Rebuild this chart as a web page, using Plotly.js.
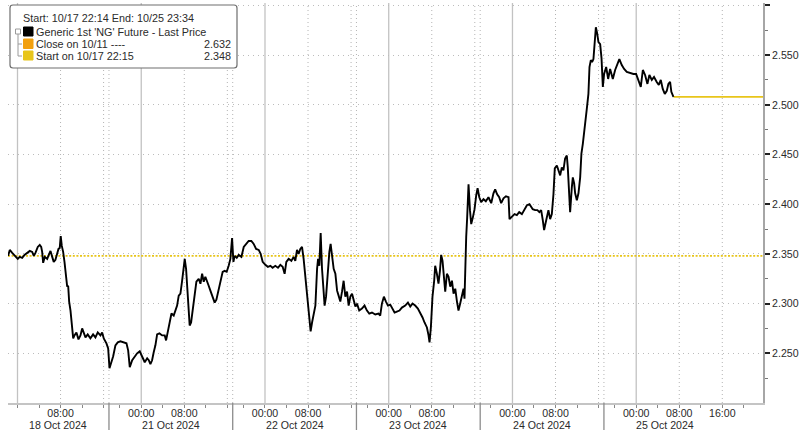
<!DOCTYPE html>
<html><head><meta charset="utf-8">
<script src="https://cdn.plot.ly/plotly-3.0.1.min.js"></script>
<style>html,body{margin:0;padding:0;background:#fff}#chart{width:800px;height:430px}</style>
</head><body><div id="chart"></div>
<script>
// ---------- data ----------
const times = [
'2024-10-17 22:15','2024-10-17 22:34','2024-10-17 23:01','2024-10-17 23:38','2024-10-18 00:03','2024-10-18 00:25','2024-10-18 00:52','2024-10-18 01:18','2024-10-18 01:48','2024-10-18 02:17','2024-10-18 02:44','2024-10-18 03:02','2024-10-18 03:20','2024-10-18 03:46','2024-10-18 04:08','2024-10-18 04:24','2024-10-18 04:35','2024-10-18 04:46','2024-10-18 05:04','2024-10-18 05:31','2024-10-18 05:49','2024-10-18 06:08','2024-10-18 06:27','2024-10-18 06:44','2024-10-18 07:03','2024-10-18 07:22','2024-10-18 07:37','2024-10-18 07:51','2024-10-18 08:02','2024-10-18 08:14','2024-10-18 08:29','2024-10-18 08:44','2024-10-18 08:58','2024-10-18 09:14','2024-10-18 09:25','2024-10-18 09:36','2024-10-18 09:51','2024-10-18 10:05','2024-10-18 10:21','2024-10-18 10:35','2024-10-18 10:57','2024-10-18 11:20','2024-10-18 11:42','2024-10-18 12:01','2024-10-18 12:19','2024-10-18 12:38','2024-10-18 13:03','2024-10-18 13:33','2024-10-18 14:03','2024-10-18 14:29','2024-10-18 14:55','2024-10-18 15:25','2024-10-18 15:44','2024-10-18 16:02','2024-10-18 16:32','2024-10-18 16:51',
'2024-10-20 18:06','2024-10-20 18:25','2024-10-20 18:47','2024-10-20 19:12','2024-10-20 19:38','2024-10-20 20:08','2024-10-20 20:45','2024-10-20 21:15','2024-10-20 21:34','2024-10-20 21:52','2024-10-20 22:19','2024-10-20 22:44','2024-10-20 23:14','2024-10-20 23:43','2024-10-21 00:10','2024-10-21 00:39','2024-10-21 01:06','2024-10-21 01:24','2024-10-21 01:42','2024-10-21 02:01','2024-10-21 02:19','2024-10-21 02:38','2024-10-21 02:57','2024-10-21 03:23','2024-10-21 03:53','2024-10-21 04:22','2024-10-21 04:37','2024-10-21 04:55','2024-10-21 05:18','2024-10-21 05:37','2024-10-21 06:02','2024-10-21 06:21','2024-10-21 06:40','2024-10-21 06:58','2024-10-21 07:17','2024-10-21 07:36','2024-10-21 07:54','2024-10-21 08:05','2024-10-21 08:20','2024-10-21 08:35','2024-10-21 08:49','2024-10-21 09:00','2024-10-21 09:16','2024-10-21 09:34','2024-10-21 09:56','2024-10-21 10:15','2024-10-21 10:41','2024-10-21 11:00','2024-10-21 11:19','2024-10-21 11:37','2024-10-21 11:55','2024-10-21 12:14','2024-10-21 12:32','2024-10-21 12:51','2024-10-21 13:17','2024-10-21 13:39','2024-10-21 13:58','2024-10-21 14:24','2024-10-21 14:43','2024-10-21 15:08','2024-10-21 15:30','2024-10-21 15:53','2024-10-21 16:15','2024-10-21 16:34','2024-10-21 16:53',
'2024-10-21 18:08','2024-10-21 18:22','2024-10-21 18:45','2024-10-21 19:07','2024-10-21 19:37','2024-10-21 20:03','2024-10-21 20:29','2024-10-21 20:58','2024-10-21 21:28','2024-10-21 21:54','2024-10-21 22:21','2024-10-21 22:50','2024-10-21 23:12','2024-10-21 23:34','2024-10-22 00:04','2024-10-22 00:32','2024-10-22 01:00','2024-10-22 01:25','2024-10-22 01:55','2024-10-22 02:25','2024-10-22 02:51','2024-10-22 03:17','2024-10-22 03:39','2024-10-22 03:58','2024-10-22 04:24','2024-10-22 04:54','2024-10-22 05:19','2024-10-22 05:38','2024-10-22 05:57','2024-10-22 06:15','2024-10-22 06:34','2024-10-22 06:53','2024-10-22 07:11','2024-10-22 07:30','2024-10-22 07:49','2024-10-22 08:00','2024-10-22 08:15','2024-10-22 08:29','2024-10-22 08:45','2024-10-22 09:03','2024-10-22 09:22','2024-10-22 09:41','2024-10-22 09:52','2024-10-22 10:06','2024-10-22 10:21','2024-10-22 10:36','2024-10-22 10:51','2024-10-22 11:05','2024-10-22 11:21','2024-10-22 11:35','2024-10-22 11:58','2024-10-22 12:12','2024-10-22 12:28','2024-10-22 12:46','2024-10-22 13:05','2024-10-22 13:24','2024-10-22 13:41','2024-10-22 14:00','2024-10-22 14:19','2024-10-22 14:37','2024-10-22 14:56','2024-10-22 15:15','2024-10-22 15:33','2024-10-22 15:52','2024-10-22 16:11','2024-10-22 16:29','2024-10-22 16:48',
'2024-10-22 18:06','2024-10-22 18:31','2024-10-22 19:01','2024-10-22 19:30','2024-10-22 19:57','2024-10-22 20:23','2024-10-22 20:53','2024-10-22 21:30','2024-10-22 22:06','2024-10-22 22:25','2024-10-22 22:44','2024-10-22 23:06','2024-10-22 23:29','2024-10-22 23:51','2024-10-23 00:17','2024-10-23 00:42','2024-10-23 01:05','2024-10-23 01:31','2024-10-23 02:00','2024-10-23 02:27','2024-10-23 03:04','2024-10-23 03:34','2024-10-23 04:00','2024-10-23 04:25','2024-10-23 04:55','2024-10-23 05:25','2024-10-23 05:51','2024-10-23 06:17','2024-10-23 06:39','2024-10-23 07:06','2024-10-23 07:24','2024-10-23 07:35','2024-10-23 07:50','2024-10-23 08:08','2024-10-23 08:27','2024-10-23 08:38','2024-10-23 08:57','2024-10-23 09:15','2024-10-23 09:31','2024-10-23 09:45','2024-10-23 10:00','2024-10-23 10:19','2024-10-23 10:30','2024-10-23 10:49','2024-10-23 11:07','2024-10-23 11:26','2024-10-23 11:45','2024-10-23 12:03','2024-10-23 12:22','2024-10-23 12:41','2024-10-23 12:58','2024-10-23 13:17','2024-10-23 13:36','2024-10-23 13:54','2024-10-23 14:05','2024-10-23 14:13','2024-10-23 14:24','2024-10-23 14:35','2024-10-23 14:50','2024-10-23 15:06','2024-10-23 15:20','2024-10-23 15:39','2024-10-23 15:57','2024-10-23 16:16','2024-10-23 16:31','2024-10-23 16:50',
'2024-10-23 18:11','2024-10-23 18:37','2024-10-23 19:03','2024-10-23 19:32','2024-10-23 20:03','2024-10-23 20:28','2024-10-23 20:47','2024-10-23 21:09','2024-10-23 21:32','2024-10-23 21:54','2024-10-23 22:20','2024-10-23 22:47','2024-10-23 23:16','2024-10-23 23:27','2024-10-23 23:54','2024-10-24 00:23','2024-10-24 00:49','2024-10-24 01:15','2024-10-24 01:45','2024-10-24 02:14','2024-10-24 02:41','2024-10-24 03:10','2024-10-24 03:46','2024-10-24 04:13','2024-10-24 04:38','2024-10-24 05:00','2024-10-24 05:20','2024-10-24 05:38','2024-10-24 05:53','2024-10-24 06:07','2024-10-24 06:23','2024-10-24 06:41','2024-10-24 07:00','2024-10-24 07:19','2024-10-24 07:37','2024-10-24 07:52','2024-10-24 08:15','2024-10-24 08:32','2024-10-24 08:52','2024-10-24 09:10','2024-10-24 09:28','2024-10-24 09:47','2024-10-24 10:06','2024-10-24 10:17','2024-10-24 10:32','2024-10-24 10:43','2024-10-24 11:02','2024-10-24 11:13','2024-10-24 11:28','2024-10-24 11:39','2024-10-24 11:58','2024-10-24 12:16','2024-10-24 12:35','2024-10-24 12:49','2024-10-24 13:05','2024-10-24 13:23','2024-10-24 13:38','2024-10-24 13:49','2024-10-24 14:07','2024-10-24 14:19','2024-10-24 14:34','2024-10-24 14:48','2024-10-24 15:03','2024-10-24 15:19','2024-10-24 15:30','2024-10-24 15:44','2024-10-24 15:59','2024-10-24 16:18','2024-10-24 16:33','2024-10-24 16:48',
'2024-10-24 18:02','2024-10-24 18:25','2024-10-24 18:47','2024-10-24 19:09','2024-10-24 19:39','2024-10-24 20:05','2024-10-24 20:30','2024-10-24 20:52','2024-10-24 21:19','2024-10-24 21:45','2024-10-24 22:15','2024-10-24 22:52','2024-10-24 23:29','2024-10-24 23:59','2024-10-25 00:24','2024-10-25 00:51','2024-10-25 01:14','2024-10-25 01:39','2024-10-25 02:05','2024-10-25 02:27','2024-10-25 02:54','2024-10-25 03:19','2024-10-25 03:49','2024-10-25 04:12','2024-10-25 04:34','2024-10-25 04:56','2024-10-25 05:19','2024-10-25 05:41','2024-10-25 05:59','2024-10-25 06:18','2024-10-25 06:32','2024-10-25 06:48','2024-10-25 06:55'
];
const prices = [
2.348,2.354,2.351,2.348,2.345,2.347,2.346,2.349,2.351,2.353,2.352,2.348,2.351,2.357,2.359,2.357,2.352,2.341,2.347,2.345,2.349,2.353,2.347,2.342,2.344,2.352,2.355,2.356,2.368,2.358,2.352,2.342,2.330,2.317,2.318,2.302,2.293,2.278,2.265,2.268,2.271,2.264,2.268,2.275,2.271,2.266,2.269,2.265,2.269,2.266,2.271,2.268,2.271,2.265,2.260,2.255,
2.235,2.241,2.247,2.258,2.261,2.262,2.261,2.260,2.253,2.236,2.243,2.246,2.250,2.252,2.246,2.241,2.245,2.243,2.239,2.243,2.251,2.258,2.269,2.270,2.268,2.268,2.263,2.272,2.280,2.290,2.288,2.293,2.298,2.308,2.310,2.323,2.335,2.345,2.335,2.312,2.285,2.278,2.281,2.293,2.307,2.322,2.325,2.320,2.330,2.322,2.327,2.323,2.318,2.313,2.307,2.301,2.304,2.315,2.325,2.332,2.333,2.332,2.338,2.345,2.366,
2.342,2.348,2.346,2.349,2.347,2.357,2.360,2.363,2.363,2.360,2.355,2.354,2.350,2.342,2.339,2.337,2.338,2.336,2.338,2.336,2.339,2.337,2.330,2.342,2.345,2.343,2.347,2.343,2.354,2.350,2.355,2.357,2.345,2.328,2.315,2.302,2.285,2.272,2.281,2.288,2.298,2.335,2.345,2.338,2.371,2.335,2.312,2.298,2.307,2.327,2.352,2.360,2.348,2.335,2.330,2.313,2.308,2.302,2.312,2.323,2.307,2.312,2.298,2.307,2.310,2.302,2.297,
2.300,2.293,2.295,2.298,2.293,2.290,2.291,2.289,2.290,2.288,2.300,2.307,2.302,2.298,2.299,2.295,2.291,2.292,2.293,2.296,2.298,2.301,2.297,2.300,2.298,2.295,2.291,2.286,2.281,2.276,2.268,2.261,2.276,2.307,2.323,2.338,2.330,2.320,2.333,2.349,2.343,2.323,2.312,2.330,2.327,2.317,2.323,2.310,2.315,2.302,2.293,2.300,2.310,2.315,2.305,2.347,2.367,2.387,2.420,2.394,2.380,2.387,2.395,2.409,2.416,2.407,
2.402,2.405,2.403,2.407,2.401,2.411,2.415,2.410,2.407,2.401,2.406,2.408,2.407,2.385,2.387,2.390,2.389,2.392,2.390,2.394,2.399,2.400,2.395,2.394,2.394,2.392,2.394,2.384,2.374,2.380,2.387,2.394,2.385,2.390,2.410,2.436,2.439,2.434,2.429,2.437,2.434,2.446,2.449,2.437,2.407,2.392,2.417,2.427,2.421,2.411,2.404,2.411,2.427,2.451,2.461,2.473,2.484,2.496,2.511,2.538,2.545,2.543,2.546,2.567,2.578,2.572,2.563,2.561,2.547,2.518,
2.531,2.538,2.526,2.536,2.526,2.535,2.541,2.546,2.540,2.536,2.533,2.532,2.531,2.531,2.525,2.518,2.535,2.530,2.521,2.530,2.525,2.528,2.523,2.520,2.525,2.516,2.511,2.514,2.521,2.523,2.513,2.508,2.508
];
const seriesName = "Generic 1st 'NG' Future - Last Price";
const startLabel = "Start on 10/17 22:15";
const startValue = 2.348;
const closeLabel = "Close on 10/11 ----";
const closeValue = 2.632;
const headerText = "Start: 10/17 22:14 End: 10/25 23:34";
const rangeStart = '2024-10-17 22:14';
const rangeEnd = '2024-10-25 23:34';

// axis ticks / labels
const yTickVals = [2.25, 2.30, 2.35, 2.40, 2.45, 2.50, 2.55, 2.60];
const xTickVals = [
'2024-10-18 00:00','2024-10-18 04:00','2024-10-18 08:00','2024-10-18 12:00','2024-10-18 16:00',
'2024-10-20 20:00',
'2024-10-21 00:00','2024-10-21 04:00','2024-10-21 08:00','2024-10-21 12:00','2024-10-21 16:00','2024-10-21 20:00',
'2024-10-22 00:00','2024-10-22 04:00','2024-10-22 08:00','2024-10-22 12:00','2024-10-22 16:00','2024-10-22 20:00',
'2024-10-23 00:00','2024-10-23 04:00','2024-10-23 08:00','2024-10-23 12:00','2024-10-23 16:00','2024-10-23 20:00',
'2024-10-24 00:00','2024-10-24 04:00','2024-10-24 08:00','2024-10-24 12:00','2024-10-24 16:00','2024-10-24 20:00',
'2024-10-25 00:00','2024-10-25 04:00','2024-10-25 08:00','2024-10-25 12:00','2024-10-25 16:00','2024-10-25 20:00'];
const xTickText = [
'','','08:00','','',
'',
'00:00','','08:00','','','',
'00:00','','08:00','','','',
'00:00','','08:00','','','',
'00:00','','08:00','','','',
'00:00','','08:00','','16:00',''];
const dayLabels = ['18 Oct 2024','21 Oct 2024','22 Oct 2024','23 Oct 2024','24 Oct 2024','25 Oct 2024'];
const dayLabelAt = ['2024-10-18 07:35','2024-10-21 05:30','2024-10-22 05:30','2024-10-23 05:30','2024-10-24 05:30','2024-10-25 05:25'];
const midnights = ['2024-10-18 00:00','2024-10-21 00:00','2024-10-22 00:00','2024-10-23 00:00','2024-10-24 00:00','2024-10-25 00:00'];
const dottedHours = ['2024-10-18 08:00','2024-10-18 16:00','2024-10-21 08:00','2024-10-21 16:00','2024-10-22 08:00','2024-10-22 16:00',
  '2024-10-23 08:00','2024-10-23 16:00','2024-10-24 08:00','2024-10-24 16:00','2024-10-25 08:00','2024-10-25 16:00'];
const sessionBreaks = ['2024-10-18 17:00','2024-10-21 17:00','2024-10-22 17:00','2024-10-23 17:00','2024-10-24 17:00'];
const weekendBreak = '2024-10-18 17:00';
const dailyBreaks = ['2024-10-21 17:00','2024-10-22 17:00','2024-10-23 17:00','2024-10-24 17:00'];

// ---------- style ----------
const FONT = 'Liberation Sans, Arial, sans-serif';
const TXT = '#2b2b2b';
const ORANGE = '#F2A00F';
const YELLOW = '#E8C51A';
const FS = 10.6;
const M = {l: 8, r: 37, t: 3, b: 27};
const W = 800, H = 430;
const PW = W - M.l - M.r, PH = H - M.t - M.b;
const px = x => (x - M.l) / PW;
const py = y => (H - M.b - y) / PH;

const lastT = times[times.length - 1];
const lastV = prices[prices.length - 1];

const traces = [
  {x: [rangeStart, rangeEnd], y: [startValue, startValue], mode: 'lines',
   line: {color: YELLOW, width: 1.7, dash: '2px,1.6px'}, hoverinfo: 'skip'},
  {x: [lastT, rangeEnd], y: [lastV, lastV], mode: 'lines',
   line: {color: YELLOW, width: 1.6}, hoverinfo: 'skip'},
  {x: times, y: prices, mode: 'lines', name: seriesName,
   line: {color: '#000', width: 1.9}}
];

const shapes = [];
midnights.forEach(t => shapes.push({type: 'line', xref: 'x', yref: 'paper', x0: t, x1: t, y0: 0, y1: 1,
  layer: 'below', line: {color: '#c2c2c2', width: 1.3}}));
dottedHours.concat(sessionBreaks).forEach(t => shapes.push({type: 'line', xref: 'x', yref: 'paper', x0: t, x1: t, y0: 0, y1: 1,
  layer: 'below', line: {color: '#b4b4b4', width: 1, dash: '1px,3px'}}));
sessionBreaks.forEach(t => shapes.push({type: 'line', xref: 'x', yref: 'paper', x0: t, x1: t, y0: 0, y1: -0.07,
  layer: 'above', line: {color: '#8c8c8c', width: 1.3}}));

// legend box
function roundRect(x0, y0, x1, y1, r) {
  const X0 = px(x0), X1 = px(x1), Y0 = py(y0), Y1 = py(y1);
  const rx = r / PW, ry = r / PH;
  return `M${X0+rx},${Y0} L${X1-rx},${Y0} Q${X1},${Y0} ${X1},${Y0-ry} L${X1},${Y1+ry} Q${X1},${Y1} ${X1-rx},${Y1} ` +
         `L${X0+rx},${Y1} Q${X0},${Y1} ${X0},${Y1+ry} L${X0},${Y0-ry} Q${X0},${Y0} ${X0+rx},${Y0} Z`;
}
shapes.push({type: 'path', xref: 'paper', yref: 'paper', path: roundRect(10, 5, 237, 68, 3),
  fillcolor: '#fff', line: {color: '#6e6e6e', width: 1.2}, layer: 'above'});
function box(x0, y0, x1, y1, fill, lc) {
  shapes.push({type: 'rect', xref: 'paper', yref: 'paper', x0: px(x0), x1: px(x1), y0: py(y1), y1: py(y0),
    fillcolor: fill, line: {color: lc || fill, width: 1}, layer: 'above'});
}
function seg(x0, y0, x1, y1) {
  shapes.push({type: 'line', xref: 'paper', yref: 'paper', x0: px(x0), x1: px(x1), y0: py(y0), y1: py(y1),
    line: {color: '#9a9a9a', width: 1}, layer: 'above'});
}
box(15.5, 29, 20.5, 34, '#fff', '#9a9a9a');
seg(18, 34, 18, 56); seg(18, 44, 22, 44); seg(18, 56, 22, 56);
box(23.5, 27, 33, 36, '#000');
box(23.5, 39, 33, 48.5, ORANGE);
box(23.5, 51, 33, 60, YELLOW);

const tf = {family: FONT, size: 10.8, color: TXT};
const ann = [];
function txt(x, y, s, anchor) {
  ann.push({xref: 'paper', yref: 'paper', x: px(x), y: py(y), text: s, showarrow: false,
    xanchor: anchor || 'left', yanchor: 'middle', font: tf, borderpad: 0});
}
txt(22, 18.5, headerText);
txt(35, 31.5, seriesName);
txt(35, 43.8, closeLabel);
txt(232, 43.8, closeValue.toFixed(3), 'right');
txt(35, 55.7, startLabel);
txt(232, 55.7, startValue.toFixed(3), 'right');
dayLabels.forEach((d, i) => ann.push({xref: 'x', yref: 'paper', x: dayLabelAt[i], y: py(424.5), text: d,
  showarrow: false, xanchor: 'center', yanchor: 'middle', borderpad: 0, font: {family: FONT, size: FS, color: TXT}}));

const layout = {
  width: W, height: H, margin: M, paper_bgcolor: '#fff', plot_bgcolor: '#fff', showlegend: false,
  font: {family: FONT, size: FS, color: TXT},
  xaxis: {
    type: 'date', range: [rangeStart, rangeEnd],
    rangebreaks: [{values: [weekendBreak], dvalue: 49 * 3600000}, {values: dailyBreaks, dvalue: 3600000}],
    tickmode: 'array', tickvals: xTickVals, ticktext: xTickText,
    ticks: 'outside', ticklen: 3, tickwidth: 1, tickcolor: '#888', ticklabelstandoff: -3,
    showgrid: false, zeroline: false, showline: true, linecolor: '#c4c4c4', linewidth: 1.5,
    tickfont: {family: FONT, size: FS, color: TXT}, fixedrange: true
  },
  yaxis: {
    side: 'right', range: [2.2, 2.6024], tickmode: 'array', tickvals: yTickVals, tickformat: '.3f',
    ticks: 'outside', ticklen: 5, tickwidth: 2, tickcolor: '#222',
    showline: true, linecolor: '#a6a6a6', linewidth: 2, zeroline: false,
    showgrid: true, gridcolor: '#bcbcbc', gridwidth: 1, griddash: '1px,4px',
    minor: {tickmode: 'linear', tick0: 2.225, dtick: 0.05, ticks: 'outside', ticklen: 3, tickwidth: 1, tickcolor: '#777', showgrid: false},
    tickfont: {family: FONT, size: FS, color: TXT}, fixedrange: true
  },
  shapes: shapes, annotations: ann
};
Plotly.newPlot('chart', traces, layout, {displayModeBar: false, staticPlot: true});
</script></body></html>
